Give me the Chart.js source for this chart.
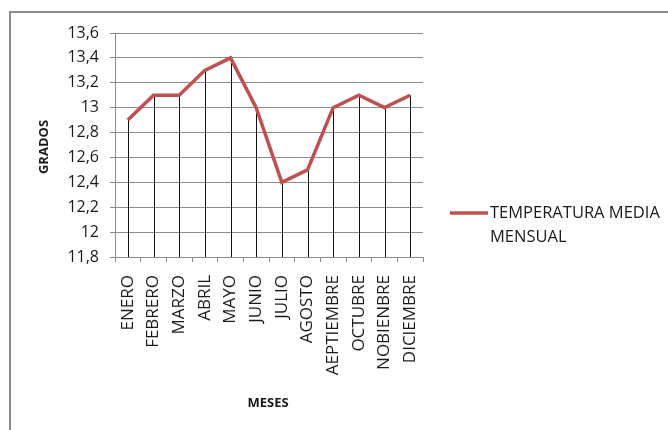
<!DOCTYPE html>
<html>
<head>
<meta charset="utf-8">
<script src="https://cdn.jsdelivr.net/npm/chart.js@4/dist/chart.umd.min.js"></script>
<style>
  html, body { margin: 0; padding: 0; background: #fff; }
  #wrap { width: 668px; height: 430px; position: relative; }
</style>
</head>
<body>
<div id="wrap"><canvas id="c" width="668" height="430"></canvas></div>
<script>
// Monthly mean temperature (degrees)
const meses = ["ENERO", "FEBRERO", "MARZO", "ABRIL", "MAYO", "JUNIO", "JULIO",
               "AGOSTO", "AEPTIEMBRE", "OCTUBRE", "NOBIENBRE", "DICIEMBRE"];
const temperatura = [12.9, 13.1, 13.1, 13.3, 13.4, 13.0, 12.4, 12.5, 13.0, 13.1, 13.0, 13.1];
const serieNombre = ["TEMPERATURA MEDIA", "MENSUAL"];
const ejeY = { min: 11.8, max: 13.6, paso: 0.2 };

const FONT = "'Open Sans', 'Liberation Sans', sans-serif";
const ROJO = "#C0504D";
const GRIS = "#8c8c8c";

// Outer frame, drop lines, axis titles and legend
const extras = {
  id: "extras",
  beforeDraw(chart) {
    const ctx = chart.ctx;
    ctx.save();
    ctx.fillStyle = "#fff";
    ctx.fillRect(0, 0, chart.width, chart.height);
    ctx.strokeStyle = GRIS;
    ctx.lineWidth = 2;
    ctx.strokeRect(10, 12, 800, 600);
    ctx.restore();
  },
  beforeDatasetsDraw(chart) {
    const ctx = chart.ctx;
    const meta = chart.getDatasetMeta(0);
    const bottom = chart.chartArea.bottom;
    ctx.save();
    ctx.strokeStyle = "#111";
    ctx.lineWidth = 1;
    meta.data.forEach(pt => {
      const x = Math.round(pt.x) + 0.5;
      ctx.beginPath();
      ctx.moveTo(x, pt.y);
      ctx.lineTo(x, bottom);
      ctx.stroke();
    });
    ctx.restore();
  },
  afterDraw(chart) {
    const ctx = chart.ctx;
    ctx.save();
    ctx.fillStyle = "#1a1a1a";
    ctx.font = "bold 13px " + FONT;
    ctx.textAlign = "center";
    ctx.textBaseline = "middle";
    ctx.fillText("MESES", 268, 403);
    ctx.translate(44, 147);
    ctx.rotate(-Math.PI / 2);
    ctx.fillText("GRADOS", 0, 0);
    ctx.restore();

    // legend
    ctx.save();
    ctx.strokeStyle = ROJO;
    ctx.lineWidth = 3.5;
    ctx.beginPath();
    ctx.moveTo(450, 213);
    ctx.lineTo(488, 213);
    ctx.stroke();
    ctx.fillStyle = "#1a1a1a";
    ctx.font = "16.5px " + FONT;
    ctx.textAlign = "left";
    ctx.textBaseline = "middle";
    serieNombre.forEach((t, i) => ctx.fillText(t, 490, 213 + i * 24));
    ctx.restore();
  }
};

new Chart(document.getElementById("c"), {
  type: "line",
  data: {
    labels: meses,
    datasets: [{
      label: serieNombre.join(" "),
      data: temperatura,
      borderColor: ROJO,
      borderWidth: 3.5,
      pointRadius: 0,
      tension: 0,
      fill: false
    }]
  },
  options: {
    responsive: false,
    animation: false,
    layout: { padding: { top: 33, right: 245, bottom: 0, left: 0 } },
    plugins: { legend: { display: false }, tooltip: { enabled: false } },
    scales: {
      x: {
        offset: true,
        afterFit(s) { s.height = 173; },
        grid: { offset: true, drawOnChartArea: false, color: GRIS, tickLength: 5 },
        border: { color: GRIS, width: 1 },
        ticks: {
          minRotation: 90, maxRotation: 90, autoSkip: false, padding: 13,
          color: "#1a1a1a", font: { family: FONT, size: 17 }
        }
      },
      y: {
        min: ejeY.min, max: ejeY.max,
        afterFit(s) { s.width = 115; },
        grid: { color: GRIS, tickLength: 5 },
        border: { color: GRIS, width: 1 },
        ticks: {
          stepSize: ejeY.paso, padding: 11, color: "#1a1a1a",
          font: { family: FONT, size: 16 },
          callback: v => String(Number(v.toFixed(1))).replace(".", ",")
        }
      }
    }
  },
  plugins: [extras]
});
</script>
</body>
</html>
